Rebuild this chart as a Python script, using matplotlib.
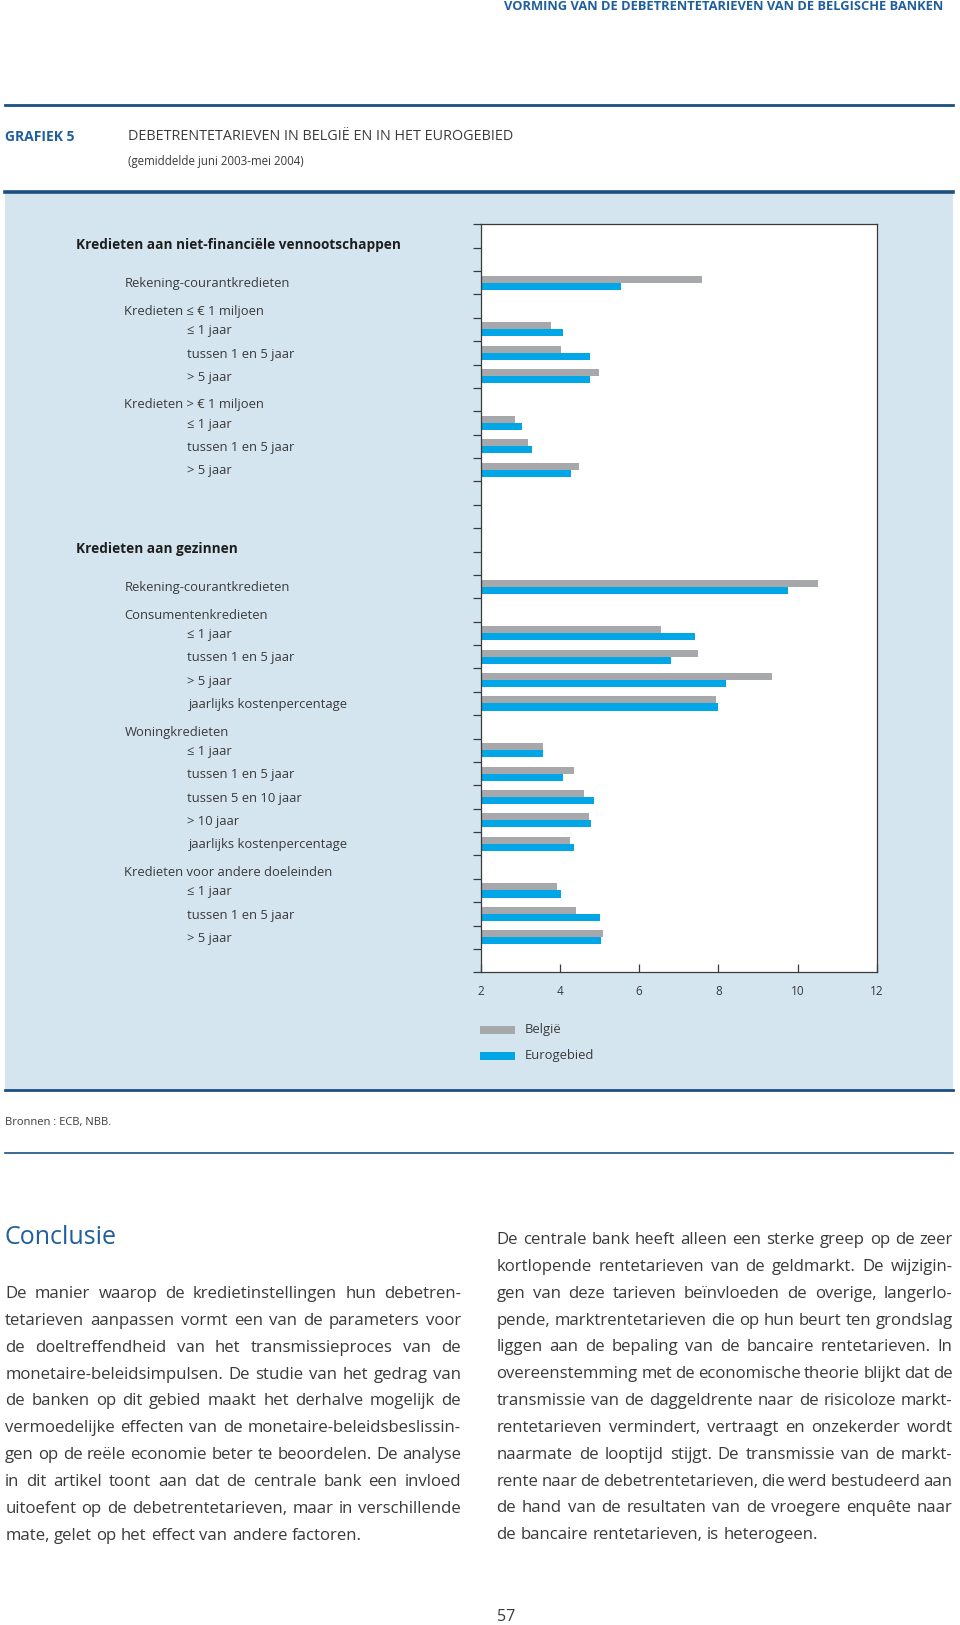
import matplotlib
matplotlib.use("Agg")
import matplotlib.pyplot as plt
import matplotlib.transforms as mtransforms
import numpy as np

# ---------------- data ----------------
row_labels = [
    "Kredieten aan niet-financiële vennootschappen", "",
    "Rekening-courantkredieten",
    "Kredieten ≤ € 1 miljoen", "≤ 1 jaar", "tussen 1 en 5 jaar", "> 5 jaar",
    "Kredieten > € 1 miljoen", "≤ 1 jaar", "tussen 1 en 5 jaar", "> 5 jaar",
    "", "",
    "Kredieten aan gezinnen", "",
    "Rekening-courantkredieten",
    "Consumentenkredieten", "≤ 1 jaar", "tussen 1 en 5 jaar", "> 5 jaar",
    "jaarlijks kostenpercentage",
    "Woningkredieten", "≤ 1 jaar", "tussen 1 en 5 jaar", "tussen 5 en 10 jaar",
    "> 10 jaar", "jaarlijks kostenpercentage",
    "Kredieten voor andere doeleinden", "≤ 1 jaar", "tussen 1 en 5 jaar", "> 5 jaar",
    "",
]
# 0 = section header (bold), 1 = group / first level, 2 = sub item
row_levels = [0, 0, 1, 1, 2, 2, 2, 1, 2, 2, 2, 0, 0, 0, 0, 1, 1, 2, 2, 2, 2,
              1, 2, 2, 2, 2, 2, 1, 2, 2, 2, 0]
belgie = [None, None, 7.59, None, 3.77, 4.03, 4.98, None, 2.87, 3.20, 4.47,
          None, None, None, None, 10.53, None, 6.56, 7.49, 9.36, 7.94,
          None, 3.58, 4.36, 4.60, 4.73, 4.26, None, 3.93, 4.41, 5.08, None]
eurogebied = [None, None, 5.54, None, 4.07, 4.76, 4.77, None, 3.05, 3.30, 4.28,
              None, None, None, None, 9.76, None, 7.42, 6.80, 8.19, 7.98,
              None, 3.58, 4.09, 4.85, 4.78, 4.36, None, 4.04, 5.01, 5.04, None]
x_ticks = [2, 4, 6, 8, 10, 12]
series_names = ["België", "Eurogebied"]

left_par = [
    "De manier waarop de kredietinstellingen hun debetren-",
    "tetarieven aanpassen vormt een van de parameters voor",
    "de doeltreffendheid van het transmissieproces van de",
    "monetaire-beleidsimpulsen. De studie van het gedrag van",
    "de banken op dit gebied maakt het derhalve mogelijk de",
    "vermoedelijke effecten van de monetaire-beleidsbeslissin-",
    "gen op de reële economie beter te beoordelen. De analyse",
    "in dit artikel toont aan dat de centrale bank een invloed",
    "uitoefent op de debetrentetarieven, maar in verschillende",
    "mate, gelet op het effect van andere factoren.",
]
right_par = [
    "De centrale bank heeft alleen een sterke greep op de zeer",
    "kortlopende rentetarieven van de geldmarkt. De wijzigin-",
    "gen van deze tarieven beïnvloeden de overige, langerlo-",
    "pende, marktrentetarieven die op hun beurt ten grondslag",
    "liggen aan de bepaling van de bancaire rentetarieven. In",
    "overeenstemming met de economische theorie blijkt dat de",
    "transmissie van de daggeldrente naar de risicoloze markt-",
    "rentetarieven vermindert, vertraagt en onzekerder wordt",
    "naarmate de looptijd stijgt. De transmissie van de markt-",
    "rente naar de debetrentetarieven, die werd bestudeerd aan",
    "de hand van de resultaten van de vroegere enquête naar",
    "de bancaire rentetarieven, is heterogeen.",
]

# ---------------- styling ----------------
FONT = "Open Sans"
plt.rcParams['font.family'] = [FONT, 'DejaVu Sans']
W, H = 960, 1625
DARKBLUE = "#1b4f80"
BLUE_TXT = "#1f5f9e"
TXT = "#3a3a3a"
PANEL = "#d5e5f0"
GREY = "#a7a8ab"
CYAN = "#00a6e6"

fig = plt.figure(figsize=(W / 100, H / 100), dpi=100)
fig.patch.set_facecolor("white")
renderer = fig.canvas.get_renderer()


def fx(x):
    return x / W


def fy(y):
    return 1 - y / H


def put(x, y, s, **kw):
    return fig.text(fx(x), fy(y), s, **kw)


def hline(y, x0, x1, lw, color=DARKBLUE):
    fig.add_artist(plt.Line2D([fx(x0), fx(x1)], [fy(y), fy(y)], lw=lw,
                              color=color, transform=fig.transFigure))


def measure(s, **kw):
    t = fig.text(0, 0, s, **kw)
    w = t.get_window_extent(renderer).width
    t.remove()
    return w


def justify(lines, x0, x1, y0, dy, **kw):
    n = len(lines)
    for i, line in enumerate(lines):
        y = y0 + i * dy
        words = line.split(" ")
        widths = [measure(w, **kw) for w in words]
        space = measure("a a", **kw) - measure("aa", **kw)
        if i == n - 1:
            gap = space
        else:
            gap = (x1 - x0 - sum(widths)) / (len(words) - 1)
        gap = max(gap, 0.55 * space)
        x = x0
        for w, wd in zip(words, widths):
            put(x, y, w, ha="left", va="center", **kw)
            x += wd + gap


# ---------------- page header ----------------
put(943, 6, "VORMING VAN DE DEBETRENTETARIEVEN VAN DE BELGISCHE BANKEN",
    ha="right", va="center", fontsize=9.3, fontweight="bold", color=BLUE_TXT)
hline(104.7, 5, 953, 2.0)
put(5, 137, "GRAFIEK 5", ha="left", va="center", fontsize=10,
    fontweight="bold", color=BLUE_TXT)
put(128.5, 137, "DEBETRENTETARIEVEN IN BELGIË EN IN HET EUROGEBIED",
    ha="left", va="center", fontsize=10.4, color=TXT)
put(128.5, 161, "(gemiddelde juni 2003-mei 2004)", ha="left", va="center",
    fontsize=8.3, color=TXT)

# panel
fig.add_artist(plt.Rectangle((fx(5), fy(1090)), fx(953) - fx(5),
                             fy(192) - fy(1090), transform=fig.transFigure,
                             facecolor=PANEL, edgecolor="none", zorder=0))
hline(192, 5, 953, 2.6)
hline(1090, 5, 953, 2.0)

# ---------------- chart ----------------
ax_l, ax_r, ax_t, ax_b = 480.7, 876.7, 224.3, 972.3
ax = fig.add_axes([fx(ax_l), fy(ax_b), fx(ax_r) - fx(ax_l), fy(ax_t) - fy(ax_b)])
ax.set_facecolor("white")
n = len(row_labels)
ax.set_xlim(x_ticks[0], x_ticks[-1])
ax.set_ylim(n, 0)

pos = np.arange(n)
bh = 0.3
bidx = [i for i in range(n) if belgie[i] is not None]
eidx = [i for i in range(n) if eurogebied[i] is not None]
ax.barh(pos[bidx] + 0.5 - bh / 2, [belgie[i] for i in bidx], height=bh,
        color=GREY, edgecolor="none", label=series_names[0])
ax.barh(pos[eidx] + 0.5 + bh / 2, [eurogebied[i] for i in eidx], height=bh,
        color=CYAN, edgecolor="none", label=series_names[1])

for s in ax.spines.values():
    s.set_color("#3a3a3a")
    s.set_linewidth(0.9)
ax.set_yticks(np.arange(n + 1))
ax.set_yticklabels([])
ax.tick_params(axis="y", direction="out", length=6, width=0.9, color="#3a3a3a")
ax.set_xticks(x_ticks)
ax.set_xticklabels([str(v) for v in x_ticks])
ax.tick_params(axis="x", direction="in", length=6, width=0.9, color="#3a3a3a",
               labelsize=8.5, labelcolor=TXT, pad=9)

# row labels
trans = mtransforms.blended_transform_factory(fig.transFigure, ax.transData)
xpos = {0: 75.7, 1: 124.4, 2: 186.6}
for i, (lab, lev) in enumerate(zip(row_labels, row_levels)):
    if not lab:
        continue
    has_bar = belgie[i] is not None
    if lev == 0:
        off, x, kw = 0.88, xpos[0], dict(fontweight="bold", fontsize=9.8, color="#1e1e1e")
    elif not has_bar and lev == 1:
        off, x, kw = 0.72, xpos[1], dict(fontsize=9.4, color=TXT)
    else:
        off, x, kw = 0.55, xpos[lev], dict(fontsize=9.4, color=TXT)
    if lab.startswith("jaarlijks"):
        x += 2
    ax.text(fx(x), i + off, lab, transform=trans, ha="left", va="center", **kw)

# legend
for k, (name, col) in enumerate(zip(series_names, [GREY, CYAN])):
    y = 1029.5 + k * 26.5
    fig.add_artist(plt.Rectangle((fx(480), fy(y + 4)), fx(515) - fx(480),
                                 fy(y - 4) - fy(y + 4), transform=fig.transFigure,
                                 facecolor=col, edgecolor="none"))
    put(524.5, y, name, ha="left", va="center", fontsize=9.4, color=TXT)

# ---------------- footer / text ----------------
put(5, 1122, "Bronnen : ECB, NBB.", ha="left", va="center", fontsize=8.0, color=TXT)
hline(1153, 5, 953, 1.2)

put(5, 1237, "Conclusie", ha="left", va="center", fontsize=18, color=BLUE_TXT)

body = dict(fontsize=12.1, color=TXT)
justify(left_par, 5.2, 461, 1294, 26.85, **body)
justify(right_par, 496.6, 952.7, 1240, 26.85, **body)

put(506, 1617, "57", ha="center", va="center", fontsize=11.5, color=TXT)

fig.savefig("out.png", dpi=100, facecolor="white")
